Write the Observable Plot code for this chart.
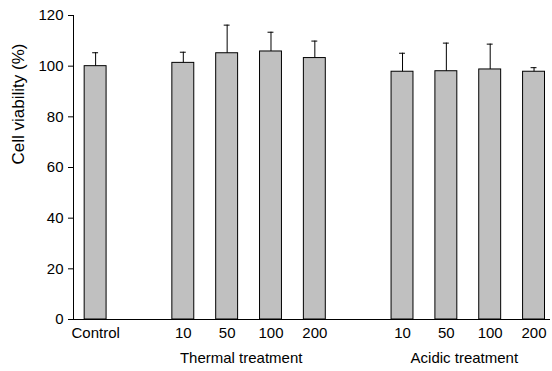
<!DOCTYPE html>
<html>
<head>
<meta charset="utf-8">
<script src="https://cdn.jsdelivr.net/npm/d3@7"></script>
<script src="https://cdn.jsdelivr.net/npm/@observablehq/plot@0.6"></script>
<style>
  html, body { margin: 0; padding: 0; background: #fff; }
  #chart svg { display: block; }
</style>
</head>
<body>
<div id="chart"></div>
<script>
// ---- data ----
const keys = ["C", "T10", "T50", "T100", "T200", "A10", "A50", "A100", "A200"];
const groups = ["Control", "Thermal", "Thermal", "Thermal", "Thermal", "Acidic", "Acidic", "Acidic", "Acidic"];
const doseLabels = ["Control", "10", "50", "100", "200", "10", "50", "100", "200"];
const viability = [100, 101.3, 105.1, 105.8, 103.2, 97.8, 98.0, 98.7, 97.8];
const errors = [5.3, 4.2, 11.1, 7.6, 6.7, 7.3, 11.1, 10.0, 1.6];
const slotOrder = ["C", "gap1", "T10", "T50", "T100", "T200", "gap2", "A10", "A50", "A100", "A200"];
const groupTitles = ["Thermal treatment", "Acidic treatment"];
const groupAnchors = ["T50", "A50"];
const yTicks = [0, 20, 40, 60, 80, 100, 120];
const yLabel = "Cell viability (%)";

const data = keys.map((k, i) => ({
  key: k, group: groups[i], dose: doseLabels[i],
  value: viability[i], top: viability[i] + errors[i]
}));
const labelOf = new Map(keys.map((k, i) => [k, doseLabels[i]]));

const font = "Liberation Sans, Arial, Helvetica, sans-serif";

const chart = Plot.plot({
  width: 552,
  height: 371,
  marginTop: 15,
  marginBottom: 52,
  marginLeft: 73,
  marginRight: 2,
  style: { fontFamily: font, fontSize: "15px", color: "#000", background: "#fff" },
  x: {
    type: "band",
    domain: slotOrder,
    paddingInner: 0.5,
    paddingOuter: 0.19,
    align: 0.67,
    round: false,
    axis: null
  },
  y: { domain: [0, 120], axis: null },
  marks: [
    Plot.barY(data, { x: "key", y: "value", fill: "#c0c0c0", stroke: "#000", strokeWidth: 1 }),
    Plot.ruleX(data, { x: "key", y1: "value", y2: "top", stroke: "#000", strokeWidth: 1 }),
    Plot.tickY(data, { x: "key", y: "top", stroke: "#000", strokeWidth: 1, insetLeft: 8, insetRight: 8 }),
    Plot.axisY({ ticks: yTicks, tickSize: 5, tickPadding: 5, label: null, fontSize: 15, stroke: "#000" }),
    Plot.frame({ anchor: "left", stroke: "#000" }),
    Plot.ruleY([0], { stroke: "#000" }),
    Plot.axisX({
      ticks: keys, tickSize: 0, tickPadding: 8, label: null, fontSize: 15,
      tickFormat: (d) => labelOf.get(d) ?? ""
    }),
    Plot.text([groupTitles[0]], {
      x: () => groupAnchors[0], frameAnchor: "bottom", dy: 43, dx: 14,
      text: (d) => d, fontSize: 15, fill: "#000"
    }),
    Plot.text([groupTitles[1]], {
      x: () => groupAnchors[1], frameAnchor: "bottom", dy: 43, dx: 18,
      text: (d) => d, fontSize: 15, fill: "#000"
    }),
    Plot.text([yLabel], {
      frameAnchor: "left", dx: -55, dy: -3, rotate: -90, text: (d) => d, fontSize: 17, fill: "#000"
    })
  ]
});
document.getElementById("chart").appendChild(chart);
</script>
</body>
</html>
